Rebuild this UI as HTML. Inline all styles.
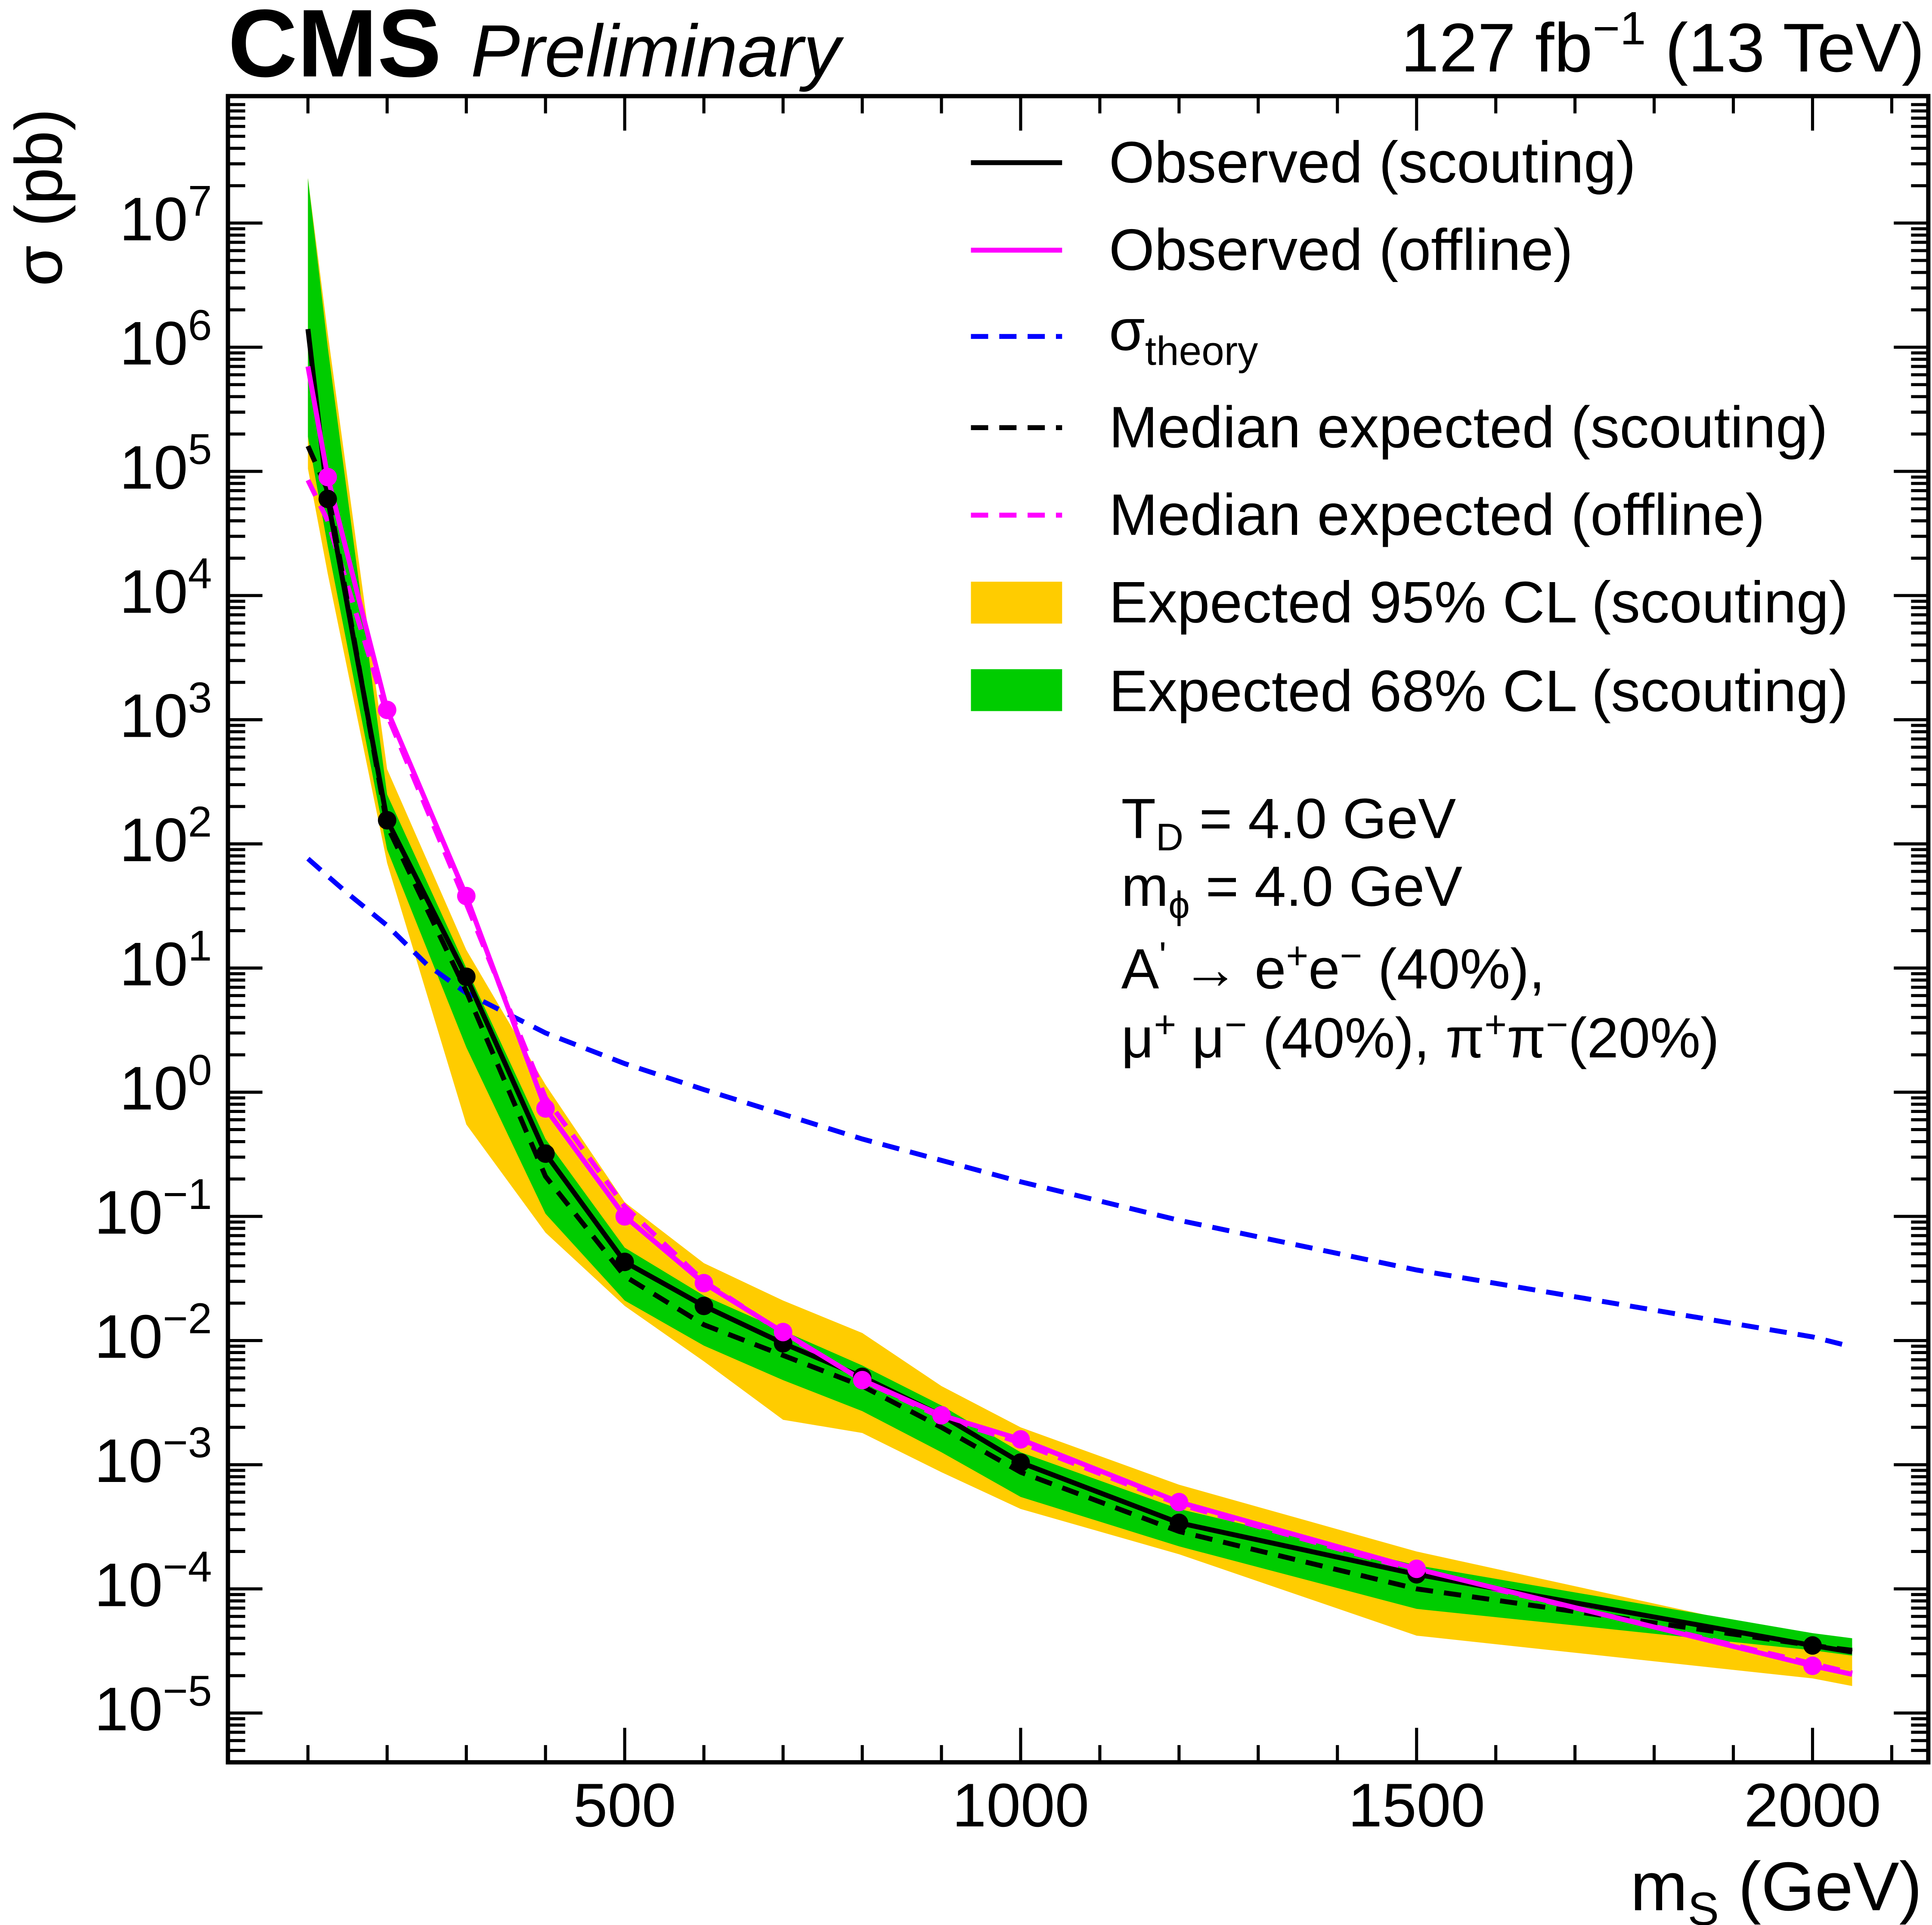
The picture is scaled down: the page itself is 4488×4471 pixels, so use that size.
<!DOCTYPE html>
<html><head><meta charset="utf-8"><style>
html,body{margin:0;padding:0;background:#fff;}
svg{display:block;font-family:"Liberation Sans",sans-serif;}
</style></head><body>
<svg id="chart" xmlns="http://www.w3.org/2000/svg" width="4488" height="4471" viewBox="0 0 1568 1562" preserveAspectRatio="none">
<rect x="0" y="0" width="1568" height="1562" fill="#fff"/>
<g id="bands"></g>
<g id="lines"></g>
<g id="axes"></g>
<text x="185" y="62" font-size="78" font-weight="bold">CMS</text>
<text x="382" y="62" font-size="60" font-style="italic">Preliminary</text>
<text x="1562" y="58" font-size="56" text-anchor="end">127 fb<tspan dy="-22" font-size="38">−1</tspan><tspan dy="22"> (13 TeV)</tspan></text>
<text transform="translate(50,88) rotate(-90)" font-size="54" text-anchor="end">σ (pb)</text>
<text x="1560" y="1550" font-size="56" text-anchor="end">m<tspan font-size="38" dy="12">S</tspan><tspan dy="-12"> (GeV)</tspan></text>
<g font-size="47.5">
<line x1="788" y1="132" x2="862" y2="132" stroke="#000" stroke-width="4"/>
<text x="900" y="148">Observed (scouting)</text>
<line x1="788" y1="203" x2="862" y2="203" stroke="#ff00ff" stroke-width="4"/>
<text x="900" y="219">Observed (offline)</text>
<line x1="788" y1="273" x2="862" y2="273" stroke="#0000ff" stroke-width="4" stroke-dasharray="14,9"/>
<text x="900" y="284">σ<tspan font-size="33" dy="12">theory</tspan></text>
<line x1="788" y1="347" x2="862" y2="347" stroke="#000" stroke-width="4" stroke-dasharray="14,9"/>
<text x="900" y="363">Median expected (scouting)</text>
<line x1="788" y1="418" x2="862" y2="418" stroke="#ff00ff" stroke-width="4" stroke-dasharray="14,9"/>
<text x="900" y="434">Median expected (offline)</text>
<rect x="788" y="472" width="74" height="34" fill="#ffcc00"/>
<text x="900" y="505">Expected 95% CL (scouting)</text>
<rect x="788" y="543" width="74" height="34" fill="#00cc00"/>
<text x="900" y="577">Expected 68% CL (scouting)</text>
</g>
<g font-size="46">
<text x="910" y="680">T<tspan font-size="31" dy="10">D</tspan><tspan dy="-10"> = 4.0 GeV</tspan></text>
<text x="910" y="735">m<tspan font-size="31" dy="10">ϕ</tspan><tspan dy="-10"> = 4.0 GeV</tspan></text>
<text x="910" y="802">A<tspan font-size="31" dy="-16">'</tspan><tspan dy="16"> → e</tspan><tspan font-size="31" dy="-16">+</tspan><tspan dy="16">e</tspan><tspan font-size="31" dy="-16">−</tspan><tspan dy="16"> (40%),</tspan></text>
<text x="910" y="858">μ<tspan font-size="31" dy="-16">+</tspan><tspan dy="16"> μ</tspan><tspan font-size="31" dy="-16">−</tspan><tspan dy="16"> (40%), π</tspan><tspan font-size="31" dy="-16">+</tspan><tspan dy="16">π</tspan><tspan font-size="31" dy="-16">−</tspan><tspan dy="16">(20%)</tspan></text>
</g>
</svg>
<script>
const masses = [100,125,200,300,400,500,600,700,800,900,1000,1200,1500,2000,2050];
const obsScouting = [1.4e6,6e4,155,8.5,0.32,0.043,0.019,0.0095,0.0051,0.0025,0.00104,0.00034,0.000131,3.5e-5,3.1e-5];
const obsOffline = [7e5,9e4,1200,38,0.74,0.1,0.029,0.0117,0.0048,0.0025,0.0016,0.0005,0.000145,2.4e-5,2.05e-5];
const expScouting = [1.6e5,7e4,140,6.5,0.21,0.033,0.0134,0.0076,0.0043,0.002,0.00087,0.00029,0.0001,3.5e-5,3.2e-5];
const expOffline = [8.5e4,4e4,1100,33,0.9,0.12,0.03,0.0115,0.0048,0.0024,0.0015,0.00048,0.00014,2.5e-5,2.1e-5];
const band95Hi = [2.3e7,1.3e6,400,14,1.15,0.13,0.042,0.021,0.0115,0.0043,0.002,0.00069,0.0002,4e-5,3.6e-5];
const band95Lo = [1.05e5,1.5e4,70,0.55,0.074,0.019,0.0068,0.0023,0.0018,0.00087,0.00044,0.00019,4.2e-5,1.9e-5,1.65e-5];
const band68Hi = [2.3e7,1.0e6,250,10,0.42,0.056,0.023,0.012,0.0063,0.003,0.00126,0.00044,0.000155,4.4e-5,4e-5];
const band68Lo = [1.9e5,2.5e4,90,2.3,0.105,0.021,0.0091,0.0048,0.0027,0.00126,0.00055,0.00022,6.9e-5,3.2e-5,2.9e-5];
const theoryMass = [100,125,150,200,250,300,400,500,600,800,1000,1200,1500,2000,2050];
const theoryXsec = [76,55,40,22,10.7,6.3,3.0,1.7,1.05,0.42,0.19,0.093,0.037,0.0107,0.0089];
const obsScoutingMarkers = [125,200,300,400,500,600,700,800,900,1000,1200,1500,2000];
const obsOfflineMarkers = [125,200,300,400,500,600,700,800,900,1000,1200,1500,2000];
const xTicks = [500,1000,1500,2000];
const yDecades = [-5,-4,-3,-2,-1,0,1,2,3,4,5,6,7];

const NS='http://www.w3.org/2000/svg';
const L=185,R=1565,T=78,B=1430;
function xs(m){return 507+(m-500)*0.6427;}
function ys(v){return 181+(7-Math.log10(v))*100.75;}
function mk(tag,attrs,parent){const e=document.createElementNS(NS,tag);for(const k in attrs)e.setAttribute(k,attrs[k]);parent.appendChild(e);return e;}
const bands=document.getElementById('bands'),lines=document.getElementById('lines'),axes=document.getElementById('axes');

function bandPath(hi,lo){let d='';masses.forEach((m,i)=>{d+=(i?'L':'M')+xs(m)+','+ys(hi[i]);});for(let i=masses.length-1;i>=0;i--)d+='L'+xs(masses[i])+','+ys(lo[i]);return d+'Z';}
const b95=mk('path',{d:bandPath(band95Hi,band95Lo),fill:'#ffcc00'},bands);


const b68=mk('path',{d:bandPath(band68Hi,band68Lo),fill:'#00cc00'},bands);



function linePath(xv,yv){return xv.map((m,i)=>(i?'L':'M')+xs(m)+','+ys(yv[i])).join('');}
const th=mk('path',{d:linePath(theoryMass,theoryXsec),fill:'none',stroke:'#0000ff','stroke-width':4,'stroke-dasharray':'14,9'},lines);


const eo=mk('path',{d:linePath(masses,expOffline),fill:'none',stroke:'#ff00ff','stroke-width':4,'stroke-dasharray':'14,9'},lines);


const es=mk('path',{d:linePath(masses,expScouting),fill:'none',stroke:'#000','stroke-width':4,'stroke-dasharray':'14,9'},lines);


const os=mk('path',{d:linePath(masses,obsScouting),fill:'none',stroke:'#000','stroke-width':4},lines);


const oo=mk('path',{d:linePath(masses,obsOffline),fill:'none',stroke:'#ff00ff','stroke-width':4},lines);


obsScoutingMarkers.forEach(m=>{const i=masses.indexOf(m);const c=mk('circle',{cx:xs(m),cy:ys(obsScouting[i]),r:7.5,fill:'#000'},lines);

});
obsOfflineMarkers.forEach(m=>{const i=masses.indexOf(m);const c=mk('circle',{cx:xs(m),cy:ys(obsOffline[i]),r:7.5,fill:'#ff00ff'},lines);

});

for(let m=100;m<=2100;m+=100){const x=xs(m);if(x<L||x>R)continue;const len=(m%500===0)?28:14;
mk('line',{x1:x,y1:B,x2:x,y2:B-len,stroke:'#000','stroke-width':2.5},axes);
mk('line',{x1:x,y1:T,x2:x,y2:T+len,stroke:'#000','stroke-width':2.5},axes);}
xTicks.forEach(m=>{const t=mk('text',{x:xs(m),y:1482,'font-size':50,'text-anchor':'middle'},axes);t.textContent=m;

});
for(let d=-6;d<=7;d++){for(let k=1;k<=9;k++){const v=k*Math.pow(10,d);const y=ys(v);if(y<T||y>B)continue;const len=k===1?28:14;
mk('line',{x1:L,y1:y,x2:L+len,y2:y,stroke:'#000','stroke-width':2.5},axes);
mk('line',{x1:R,y1:y,x2:R-len,y2:y,stroke:'#000','stroke-width':2.5},axes);}}
yDecades.forEach(d=>{const y=ys(Math.pow(10,d));const t=mk('text',{x:172,y:y+14,'font-size':50,'text-anchor':'end'},axes);


const sup=(d<0?'−':'')+Math.abs(d);
t.innerHTML='10<tspan font-size="35" dy="-20">'+sup+'</tspan>';});
const fr=mk('rect',{x:L,y:T,width:R-L,height:B-T,fill:'none',stroke:'#000','stroke-width':3.5},axes);


</script>
</body></html>
